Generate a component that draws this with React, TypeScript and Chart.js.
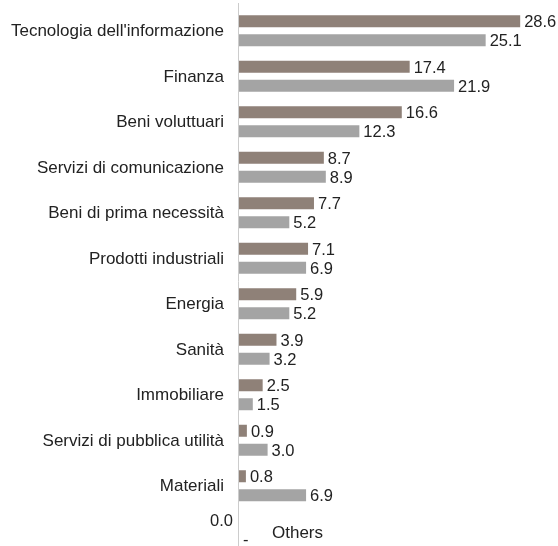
import React, { useEffect, useRef } from "react";
import { Chart, registerables } from "chart.js";

Chart.register(...registerables);

const categories = [
  "Tecnologia dell'informazione",
  "Finanza",
  "Beni voluttuari",
  "Servizi di comunicazione",
  "Beni di prima necessità",
  "Prodotti industriali",
  "Energia",
  "Sanità",
  "Immobiliare",
  "Servizi di pubblica utilità",
  "Materiali",
  "Others",
];
const seriesA = [28.6, 17.4, 16.6, 8.7, 7.7, 7.1, 5.9, 3.9, 2.5, 0.9, 0.8, 0.0];
const seriesB = [25.1, 21.9, 12.3, 8.9, 5.2, 6.9, 5.2, 3.2, 1.5, 3.0, 6.9, null];
const seriesNames = ["Serie A", "Serie B"];

const FONT = "'Liberation Sans', Arial, sans-serif";
const TEXT = "#222222";

const labelPlugin = {
  id: "valueLabels",
  afterDatasetsDraw(chart: any) {
    const ctx = chart.ctx;
    const xScale = chart.scales.x;
    const yScale = chart.scales.y;
    const base = xScale.getPixelForValue(0);
    ctx.save();
    ctx.fillStyle = TEXT;
    ctx.textBaseline = "middle";
    // category labels
    ctx.font = `17px ${FONT}`;
    categories.forEach((c, i) => {
      const y = yScale.getPixelForValue(i);
      if (c === "Others") {
        ctx.textAlign = "left";
        ctx.fillText(c, base + 34, y + 2);
      } else {
        ctx.textAlign = "right";
        ctx.fillText(c, base - 14, y + 1);
      }
    });
    ctx.font = `16.5px ${FONT}`;
    chart.data.datasets.forEach((ds: any, di: number) => {
      const meta = chart.getDatasetMeta(di);
      meta.data.forEach((bar: any, i: number) => {
        const v = ds.data[i];
        const y = bar.y;
        if (v === null || v === undefined) {
          ctx.textAlign = "left";
          ctx.fillText("-", base + 5, y);
        } else if (v === 0) {
          ctx.textAlign = "right";
          ctx.fillText(v.toFixed(1), base - 5, y);
        } else {
          ctx.textAlign = "left";
          ctx.fillText(v.toFixed(1), bar.x + 4, y + 1.5);
        }
      });
    });
    // axis line
    ctx.strokeStyle = "#cccccc";
    ctx.lineWidth = 1;
    ctx.beginPath();
    ctx.moveTo(Math.round(base) + 0.5, 3);
    ctx.lineTo(Math.round(base) + 0.5, chart.height);
    ctx.stroke();
    ctx.restore();
  },
};

export default function App() {
  const ref = useRef<HTMLCanvasElement | null>(null);
  useEffect(() => {
    if (!ref.current) return;
    const chart = new Chart(ref.current, {
      type: "bar",
      data: {
        labels: categories,
        datasets: [
          {
            label: seriesNames[0],
            data: seriesA,
            backgroundColor: "#8f8178",
            categoryPercentage: 0.835,
            barPercentage: 0.632,
          },
          {
            label: seriesNames[1],
            data: seriesB as any,
            backgroundColor: "#a4a4a4",
            categoryPercentage: 0.835,
            barPercentage: 0.632,
          },
        ],
      },
      options: {
        indexAxis: "y",
        animation: false,
        responsive: false,
        maintainAspectRatio: false,
        layout: { padding: { top: 8, bottom: 6, left: 238, right: 24 } },
        plugins: {
          legend: { display: false },
          tooltip: { enabled: false },
        },
        scales: {
          x: {
            display: false,
            min: 0,
            max: 30,
          },
          y: {
            display: false,
          },
        },
      },
      plugins: [labelPlugin],
    });
    return () => chart.destroy();
  }, []);
  return (
    <div
      style={{
        position: "fixed",
        left: 0,
        top: 0,
        width: 558,
        height: 546,
        overflow: "hidden",
        background: "#fff",
      }}
    >
      <canvas ref={ref} width={558} height={560} style={{ display: "block" }} />
    </div>
  );
}
